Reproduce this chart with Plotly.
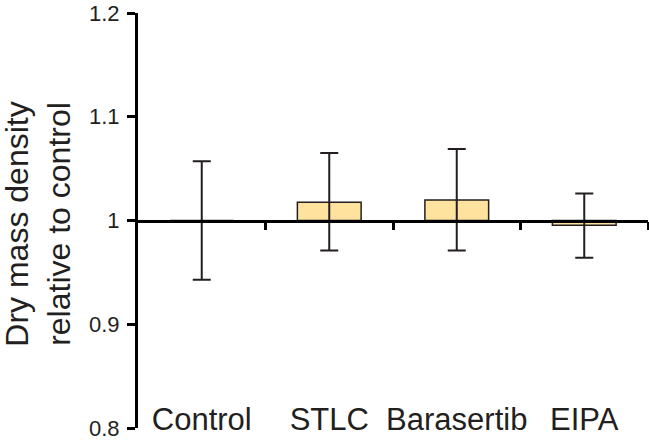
import plotly.graph_objects


########
# Data #
########

categories = ["Control", "STLC", "Barasertib", "EIPA"]
mean_density = [1.0, 1.0175, 1.0197, 0.9955]
upper_density = [1.057, 1.065, 1.069, 1.026]
lower_density = [0.943, 0.971, 0.971, 0.964]

y_tick_values = [0.8, 0.9, 1.0, 1.1, 1.2]
y_tick_labels = ["0.8", "0.9", "1", "1.1", "1.2"]


##########
# Traces #
##########

positions = list(range(len(categories)))
dark = "#231f20"

bars = plotly.graph_objects.Bar(
    x=positions,
    y=[m - 1 for m in mean_density],
    base=1,
    width=0.5,
    marker=dict(
        color="#fde39d",
        line=dict(color=dark, width=1.5)),
    showlegend=False,
    hoverinfo="skip")

error_bars = plotly.graph_objects.Scatter(
    x=positions,
    y=mean_density,
    mode="markers",
    marker=dict(size=1, opacity=0),
    error_y=dict(
        type="data",
        symmetric=False,
        array=[u - m for u, m in zip(upper_density, mean_density)],
        arrayminus=[m - l for m, l in zip(mean_density, lower_density)],
        color=dark,
        thickness=2,
        width=9),
    showlegend=False)

figure = plotly.graph_objects.Figure([bars, error_bars])


##########
# Layout #
##########

font_family = "Liberation Sans, Arial, sans-serif"

figure.update_layout(
    width=649,
    height=442,
    margin=dict(l=138, r=1, t=11, b=8),
    plot_bgcolor="white",
    paper_bgcolor="white",
    font=dict(family=font_family, color=dark, size=22),
    # x axis sits at y = 1 (middle of the y range)
    xaxis=dict(
        range=[-0.5, 3.5],
        anchor="free",
        position=0.5,
        showline=True,
        linecolor="black",
        linewidth=2.5,
        showgrid=False,
        zeroline=False,
        ticks="outside",
        ticklen=8,
        tickwidth=3,
        tickcolor="black",
        tickmode="array",
        tickvals=[0.5, 1.5, 2.5, 3.5],
        showticklabels=False),
    # category labels along the bottom
    xaxis2=dict(
        overlaying="x",
        matches="x",
        anchor="free",
        position=0.072,
        showline=False,
        showgrid=False,
        zeroline=False,
        ticks="",
        tickmode="array",
        tickvals=positions,
        ticktext=categories,
        tickfont=dict(size=31, color=dark)),
    yaxis=dict(
        range=[0.8, 1.2],
        showline=True,
        linecolor="black",
        linewidth=3,
        showgrid=False,
        zeroline=False,
        ticks="outside",
        ticklen=8,
        tickwidth=3,
        tickcolor="black",
        tickmode="array",
        tickvals=y_tick_values,
        ticktext=y_tick_labels,
        ticklabelstandoff=3,
        ticklabeloverflow="allow",
        tickfont=dict(size=22, color=dark)))

# y title as a rotated annotation so it can sit further left
figure.add_annotation(
    text="Dry mass density<br>relative to control",
    textangle=-90,
    xref="paper",
    yref="paper",
    x=-0.196,
    y=0.49,
    xanchor="center",
    yanchor="middle",
    showarrow=False,
    font=dict(size=32, color=dark))

# empty trace so xaxis2 gets drawn
figure.add_trace(plotly.graph_objects.Scatter(x=[], y=[], xaxis="x2", showlegend=False))

# drop the default body margin so the figure sits at the page corner
figure.write_html(
    "out.html",
    config={"displayModeBar": False},
    post_script="document.body.style.margin = '0';")
